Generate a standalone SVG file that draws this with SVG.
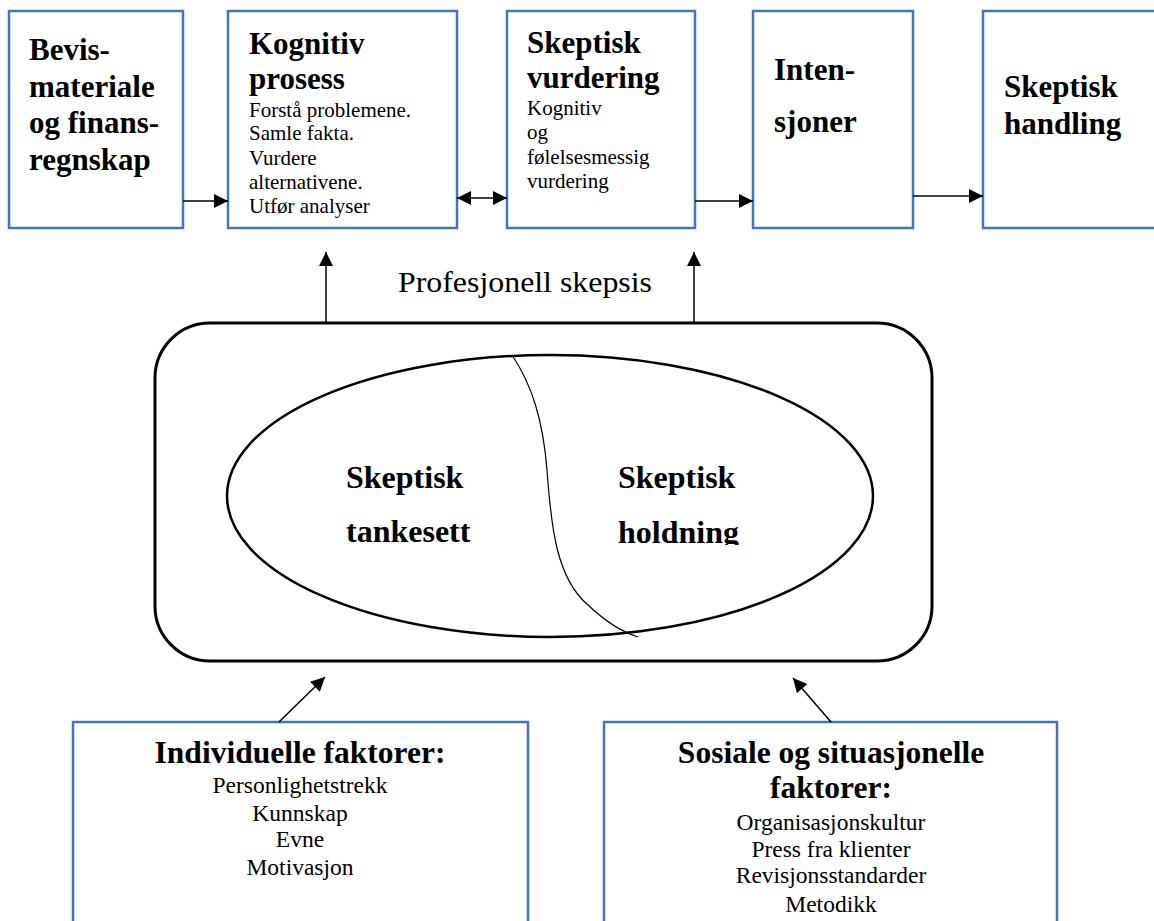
<svg xmlns="http://www.w3.org/2000/svg" width="1154" height="921" viewBox="0 0 1154 921">
<style>
.box{fill:#fff;stroke:#4472C4;stroke-width:2.5}
.b{font-family:"Liberation Serif","Times New Roman",serif;font-weight:bold;font-size:31px;fill:#000}
.s{font-family:"Liberation Serif","Times New Roman",serif;font-size:21px;fill:#000}
.m{font-family:"Liberation Serif","Times New Roman",serif;font-size:23.5px;fill:#000}
.ln{stroke:#000;stroke-width:1.5;fill:none}
</style>
<defs>
<marker id="ahb" viewBox="0 0 10 10" refX="10" refY="5" markerWidth="15" markerHeight="14" markerUnits="userSpaceOnUse" orient="auto-start-reverse">
<path d="M0,0 L10,5 L0,10 z" fill="#000"/>
</marker>
<clipPath id="clipH"><rect x="560" y="380" width="300" height="165"/></clipPath>
</defs>
<rect width="1154" height="921" fill="#fff"/>

<g id="n1">
<rect class="box" x="9" y="11" width="174" height="217"/>
<text class="b"><tspan x="29" y="60">Bevis-</tspan><tspan x="29" y="97">materiale</tspan><tspan x="29" y="133">og finans-</tspan><tspan x="29" y="170">regnskap</tspan></text>
</g>
<g id="n2">
<rect class="box" x="228" y="11" width="229" height="217"/>
<text class="b"><tspan x="249" y="54">Kognitiv</tspan><tspan x="249" y="89">prosess</tspan></text>
<text class="s"><tspan x="249" y="117">Forstå problemene.</tspan><tspan x="249" y="140">Samle fakta.</tspan><tspan x="249" y="165">Vurdere</tspan><tspan x="249" y="189">alternativene.</tspan><tspan x="249" y="213">Utfør analyser</tspan></text>
</g>
<g id="n3">
<rect class="box" x="507" y="11" width="188" height="217"/>
<text class="b"><tspan x="527" y="53">Skeptisk</tspan><tspan x="527" y="88">vurdering</tspan></text>
<text class="s"><tspan x="527" y="115">Kognitiv</tspan><tspan x="527" y="139">og</tspan><tspan x="527" y="164">følelsesmessig</tspan><tspan x="527" y="188">vurdering</tspan></text>
</g>
<g id="n4">
<rect class="box" x="753" y="11" width="160" height="217"/>
<text class="b"><tspan x="774" y="80">Inten-</tspan><tspan x="774" y="132">sjoner</tspan></text>
</g>
<g id="n5">
<rect class="box" x="983" y="11" width="180" height="217"/>
<text class="b"><tspan x="1004" y="97">Skeptisk</tspan><tspan x="1004" y="134">handling</tspan></text>
</g>

<g id="core">
<rect x="155" y="323" width="777" height="338" rx="55" ry="55" fill="none" stroke="#000" stroke-width="3"/>
<ellipse cx="550" cy="496" rx="323" ry="141" fill="none" stroke="#000" stroke-width="2.5"/>
<path d="M512,355 C532,385 543,420 547,470 C551,525 556,578 588,605 C606,622 622,632 638,637" fill="none" stroke="#000" stroke-width="1.2"/>
<text class="b" style="font-size:32px"><tspan x="346" y="488">Skeptisk</tspan><tspan x="346" y="542">tankesett</tspan></text>
<g clip-path="url(#clipH)">
<text class="b" style="font-size:32px"><tspan x="618" y="488">Skeptisk</tspan><tspan x="618" y="543">holdning</tspan></text>
</g>
</g>

<g id="label">
<text x="398" y="292" font-family="'Liberation Serif','Times New Roman',serif" font-size="30" textLength="254" lengthAdjust="spacingAndGlyphs">Profesjonell skepsis</text>
</g>

<g id="n6">
<rect class="box" x="73" y="722" width="455" height="210"/>
<text class="b" text-anchor="middle" x="300" y="763" style="font-size:31.5px">Individuelle faktorer:</text>
<text class="m" text-anchor="middle"><tspan x="300" y="793">Personlighetstrekk</tspan><tspan x="300" y="821">Kunnskap</tspan><tspan x="300" y="847">Evne</tspan><tspan x="300" y="875">Motivasjon</tspan></text>
</g>
<g id="n7">
<rect class="box" x="604" y="722" width="453" height="210"/>
<text class="b" text-anchor="middle" style="font-size:31.5px"><tspan x="831" y="763">Sosiale og situasjonelle</tspan><tspan x="831" y="798">faktorer:</tspan></text>
<text class="m" text-anchor="middle"><tspan x="831" y="830">Organisasjonskultur</tspan><tspan x="831" y="857">Press fra klienter</tspan><tspan x="831" y="883">Revisjonsstandarder</tspan><tspan x="831" y="912">Metodikk</tspan></text>
</g>

<g id="connectors">
<line class="ln" x1="183" y1="201" x2="228" y2="201" marker-end="url(#ahb)"/>
<line class="ln" x1="457" y1="198" x2="507" y2="198" marker-start="url(#ahb)" marker-end="url(#ahb)"/>
<line class="ln" x1="695" y1="201" x2="753" y2="201" marker-end="url(#ahb)"/>
<line class="ln" x1="913" y1="196" x2="983" y2="196" marker-end="url(#ahb)"/>
<line class="ln" x1="326" y1="323" x2="326" y2="252" marker-end="url(#ahb)"/>
<line class="ln" x1="694" y1="323" x2="694" y2="252" marker-end="url(#ahb)"/>
<line class="ln" x1="279" y1="722" x2="325" y2="677" marker-end="url(#ahb)"/>
<line class="ln" x1="831" y1="722" x2="793" y2="678" marker-end="url(#ahb)"/>
</g>
</svg>
